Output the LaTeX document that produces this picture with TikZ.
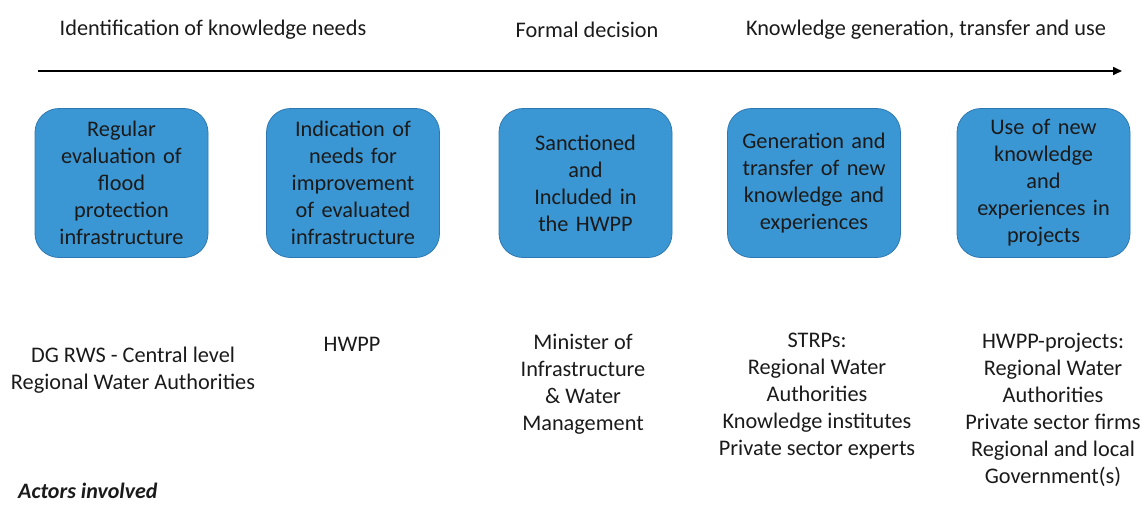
\documentclass[tikz,border=0pt]{standalone}
\usepackage{fontspec}
\setmainfont{Carlito}
\usetikzlibrary{arrows.meta}
\definecolor{boxfill}{HTML}{3B97D3}
\definecolor{boxline}{HTML}{2E78B2}
\definecolor{txt}{HTML}{1A1A1A}
\tikzset{
  stage/.style={draw=boxline, line width=0.8pt, fill=boxfill, rounded corners=24pt,
    minimum width=173pt, minimum height=149pt, inner sep=0pt, text width=168pt,
    align=center, font=\fontsize{22.3}{27}\selectfont, text=txt},
  lbl/.style={align=center, font=\fontsize{22.3}{27}\selectfont, text=txt, inner sep=0pt},
  timeline/.style={line width=1.6pt, -{Triangle[length=9pt,width=8pt]}}
}
\begin{document}
\begin{tikzpicture}[x=1pt,y=-1pt]
\useasboundingbox (0,0) rectangle (1146,504);
% headings
\node[lbl] (h1) at (213,29.5) {Identification of knowledge needs};
\node[lbl] (h2) at (587,29.5) {Formal decision};
\node[lbl] (h3) at (926,29.5) {Knowledge generation, transfer and use};
% timeline
\coordinate (ts) at (38,71);
\coordinate (te) at (1122,71);
\draw[timeline] (ts) -- (te);
% boxes
\node[stage] (b1) at (121.5,183) {Regular\\evaluation of\\flood\\protection\\infrastructure};
\node[stage] (b2) at (353,183) {Indication of\\needs for\\improvement\\of evaluated\\infrastructure};
\node[stage] (b3) at (585.5,183) {Sanctioned\\and\\Included in\\the HWPP};
\node[stage] (b4) at (814,183) {Generation and\\transfer of new\\knowledge and\\experiences};
\node[stage] (b5) at (1043.5,183) {Use of new\\knowledge\\and\\experiences in\\projects};
% actors
\node[lbl] (a1) at (133,370) {DG RWS - Central level\\Regional Water Authorities};
\node[lbl] (a2) at (352,344.5) {HWPP};
\node[lbl] (a3) at (583,384) {Minister of\\Infrastructure\\\& Water\\Management};
\node[lbl] (a4) at (817,396.5) {STRPs:\\Regional Water\\Authorities\\Knowledge institutes\\Private sector experts};
\node[lbl] (a5) at (1053,409.5) {HWPP-projects:\\Regional Water\\Authorities\\Private sector firms\\Regional and local\\Government(s)};
\node[lbl, anchor=west, font=\fontsize{22}{24}\selectfont\bfseries\itshape] (act) at (18,491) {Actors involved};
\end{tikzpicture}
\end{document}
